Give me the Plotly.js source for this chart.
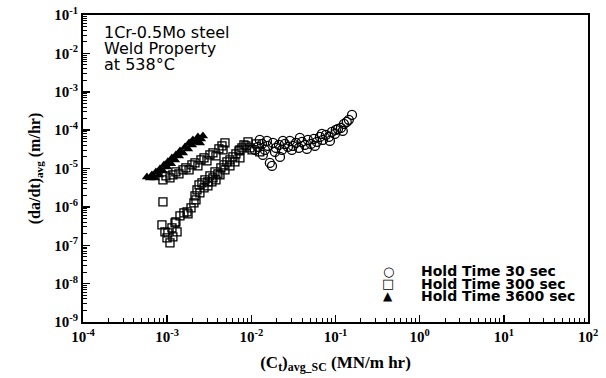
<!DOCTYPE html>
<html>
<head>
<meta charset="utf-8">
<script src="https://cdn.plot.ly/plotly-3.0.1.min.js"></script>
<style>html,body{margin:0;padding:0;background:#fff;}#chart{width:606px;height:378px;}</style>
</head>
<body>
<div id="chart"></div>
<script>
// Hold Time 30 sec (circles)
const ct30 = [1.20e-2,1.34e-2,1.45e-2,1.57e-2,1.66e-2,1.76e-2,1.81e-2,1.96e-2,2.13e-2,2.31e-2,2.51e-2,2.72e-2,2.87e-2,3.12e-2,3.39e-2,3.67e-2,3.99e-2,4.33e-2,4.70e-2,5.10e-2,5.53e-2,6.01e-2,6.53e-2,7.08e-2,7.69e-2,8.35e-2,9.06e-2,9.84e-2,1.07e-1,1.16e-1,1.26e-1,1.36e-1,1.44e-1,1.57e-1,
  1.26e-2,1.53e-2,1.91e-2,2.37e-2,3.03e-2,3.77e-2,4.57e-2,5.69e-2,6.89e-2,8.58e-2,1.01e-1,1.22e-1,1.37e-2,2.19e-2,1.10e-2];
const dadt30 = [3.65e-5,4.37e-5,3.05e-5,3.88e-5,1.40e-5,1.17e-5,4.64e-5,3.44e-5,4.12e-5,3.05e-5,4.37e-5,3.65e-5,5.23e-5,3.88e-5,4.64e-5,3.44e-5,4.93e-5,4.12e-5,5.56e-5,4.37e-5,5.90e-5,4.93e-5,6.65e-5,5.56e-5,7.50e-5,6.65e-5,8.98e-5,7.96e-5,1.07e-4,1.14e-4,1.45e-4,1.64e-4,1.85e-4,2.49e-4,
  5.56e-5,5.23e-5,2.71e-5,5.23e-5,3.05e-5,6.26e-5,3.24e-5,3.88e-5,7.96e-5,5.23e-5,1.01e-4,9.53e-5,2.26e-5,2.00e-5,3.05e-5];

// Hold Time 300 sec (squares)
const ct300 = [8.91e-4,9.68e-4,1.08e-3,1.17e-3,1.27e-3,1.38e-3,1.54e-3,1.67e-3,1.82e-3,1.97e-3,2.14e-3,2.32e-3,2.52e-3,2.74e-3,2.97e-3,3.22e-3,3.50e-3,3.80e-3,4.12e-3,4.48e-3,4.86e-3,4.61e-3,
  8.17e-3,9.12e-3,1.02e-2,1.14e-2,1.26e-2,7.32e-3,
  8.91e-4,8.67e-4,9.41e-4,9.95e-4,1.08e-3,1.17e-3,1.14e-3,1.27e-3,1.42e-3,1.58e-3,1.77e-3,1.92e-3,2.08e-3,2.14e-3,2.26e-3,2.39e-3,2.59e-3,2.81e-3,3.05e-3,3.22e-3,3.50e-3,3.70e-3,4.01e-3,4.35e-3,4.73e-3,5.13e-3,5.57e-3,6.04e-3,6.56e-3,7.13e-3,7.73e-3,8.63e-3,9.62e-3,
  2.45e-3,2.74e-3,3.05e-3,3.40e-3,3.80e-3,4.24e-3,4.86e-3,5.57e-3,6.38e-3,7.32e-3,2.20e-3,1.31e-3,1.24e-3,1.72e-3,1.02e-3];
const dadt300 = [5.05e-6,6.41e-6,5.69e-6,6.81e-6,8.14e-6,7.23e-6,9.2e-6,1.04e-5,9.2e-6,1.24e-5,1.40e-5,1.17e-5,1.67e-5,1.89e-5,1.58e-5,2.26e-5,2.55e-5,2.13e-5,3.24e-5,3.88e-5,4.64e-5,3.05e-5,
  4.12e-5,4.93e-5,3.05e-5,4.37e-5,2.71e-5,3.05e-5,
  1.35e-6,3.40e-7,2.23e-7,1.56e-7,1.15e-7,1.66e-7,2.84e-7,4.07e-7,5.83e-7,6.98e-7,6.57e-7,9.42e-7,1.27e-6,1.93e-6,2.77e-6,3.74e-6,4.22e-6,5.05e-6,4.48e-6,6.41e-6,5.69e-6,8.14e-6,7.23e-6,1.04e-5,1.24e-5,1.49e-5,1.67e-5,2.00e-5,2.40e-5,2.87e-5,3.44e-5,3.88e-5,3.44e-5,
  2.32e-6,3.13e-6,3.52e-6,4.48e-6,5.05e-6,6.81e-6,9.2e-6,1.17e-5,1.49e-5,1.89e-5,1.52e-6,2.23e-7,3.83e-7,7.41e-7,2.10e-7];

// Hold Time 3600 sec (filled triangles)
const ct3600 = [5.75e-4,6.25e-4,6.59e-4,7.16e-4,7.36e-4,8.0e-4,8.20e-4,8.91e-4,9.17e-4,9.95e-4,1.02e-3,1.11e-3,1.14e-3,1.24e-3,1.27e-3,1.38e-3,1.42e-3,1.54e-3,1.63e-3,1.77e-3,1.82e-3,1.97e-3,2.02e-3,2.20e-3,2.32e-3,2.52e-3,2.66e-3,2.45e-3];
const dadt3600 = [6.04e-6,5.69e-6,6.81e-6,5.69e-6,8.14e-6,6.81e-6,9.77e-6,8.66e-6,1.24e-5,1.10e-5,1.49e-5,1.32e-5,1.89e-5,1.67e-5,2.26e-5,2.13e-5,2.87e-5,2.55e-5,3.65e-5,3.24e-5,4.64e-5,4.12e-5,5.56e-5,4.93e-5,6.65e-5,5.9e-5,7.06e-5,4.64e-5];

const seriesNames = ['Hold Time 30 sec','Hold Time 300 sec','Hold Time 3600 sec'];
const legendSymbols = ['\u25CB','\u25A1','\u25B2'];
const noteLines = ['1Cr-0.5Mo steel','Weld Property','at 538\u00B0C'];
const xExps = [-4,-3,-2,-1,0,1,2];
const yExps = [-9,-8,-7,-6,-5,-4,-3,-2,-1];

function powVals(exps){ return exps.map(e => Math.pow(10, e)); }
function powText(exps){ return exps.map(e => '10<sup>' + e + '</sup>'); }
function minorVals(exps){
  const out = [];
  for (let i = 0; i < exps.length - 1; i++) for (let m = 2; m <= 9; m++) out.push(m * Math.pow(10, exps[i]));
  return out;
}

const traces = [
  {x: ct30, y: dadt30, name: seriesNames[0], type:'scatter', mode:'markers',
   marker:{symbol:'circle-open', size:9, color:'black', line:{width:1.3, color:'black'}}},
  {x: ct300, y: dadt300, name: seriesNames[1], type:'scatter', mode:'markers',
   marker:{symbol:'square-open', size:8, color:'black', line:{width:1.3, color:'black'}}},
  {x: ct3600, y: dadt3600, name: seriesNames[2], type:'scatter', mode:'markers',
   marker:{symbol:'triangle-up', size:9, color:'black'}}
];

const serif = '"Liberation Serif", "Times New Roman", serif';
const tickFont = {family: serif, size:15, color:'black', weight:'bold'};
function axis(exps, extra){
  return Object.assign({
    type:'log', range:[exps[0], exps[exps.length-1]], showgrid:false, zeroline:false,
    showline:true, linecolor:'black', linewidth:2, mirror:true,
    ticks:'inside', ticklen:7, tickwidth:1.5, tickcolor:'black',
    tickmode:'array', tickvals: powVals(exps), ticktext: powText(exps), tickfont: tickFont,
    minor:{tickmode:'array', tickvals: minorVals(exps), ticks:'inside', ticklen:4, tickwidth:1, tickcolor:'black', showgrid:false}
  }, extra);
}

const annotations = [];
const noteY = [32, 48.5, 65];
noteLines.forEach((t, i) => annotations.push({
  xref:'paper', yref:'paper', x:(102-83)/505, y:(322-noteY[i])/307, xanchor:'left', yanchor:'middle',
  showarrow:false, text:t, font:{family:'"DejaVu Sans", sans-serif', size:16, color:'black'}
}));
const legY = [271, 283.5, 296];
seriesNames.forEach((t, i) => {
  annotations.push({xref:'paper', yref:'paper', x:(388-83)/505, y:(322-legY[i])/307, xanchor:'center', yanchor:'middle',
    showarrow:false, text:legendSymbols[i], font:{family:'"DejaVu Sans", sans-serif', size:i===2?12:13, color:'black'}});
  annotations.push({xref:'paper', yref:'paper', x:(419-83)/505, y:(322-legY[i])/307, xanchor:'left', yanchor:'middle',
    showarrow:false, text:t, font:{family:'"DejaVu Sans", sans-serif', size:14, color:'black', weight:'bold'}});
});

const layout = {
  width:606, height:378,
  margin:{l:83, r:18, t:15, b:56},
  paper_bgcolor:'white', plot_bgcolor:'white',
  showlegend:false,
  xaxis: axis(xExps, {title:{text:'(C<sub>t</sub>)<sub>avg_SC</sub> (MN/m hr)', standoff:12,
      font:{family: serif, size:17, color:'black', weight:'bold'}}}),
  yaxis: axis(yExps, {title:{text:'(da/dt)<sub>avg</sub> (m/hr)', standoff:10,
      font:{family: serif, size:16, color:'black', weight:'bold'}}}),
  annotations: annotations
};

Plotly.newPlot('chart', traces, layout, {displayModeBar:false, staticPlot:true});
</script>
</body>
</html>
